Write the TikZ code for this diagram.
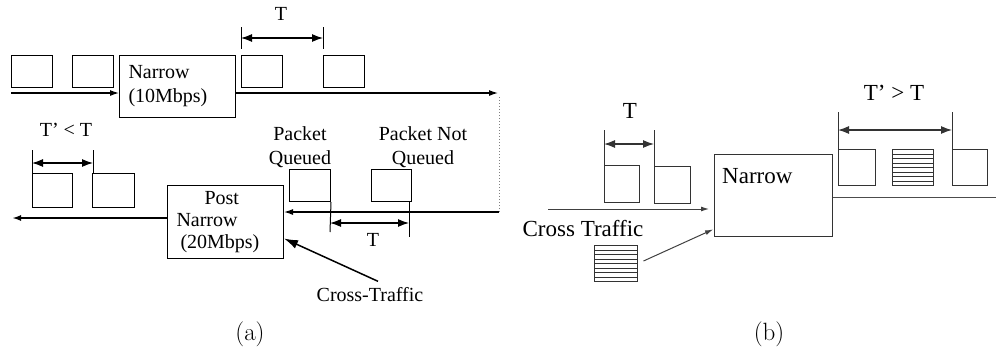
\documentclass[tikz,border=0pt]{standalone}
\usepackage{fontspec}
\newfontfamily\figfont{Liberation Serif}
\usepackage{tikz}
\usetikzlibrary{arrows.meta, calc, positioning}

\tikzset{
  pkt/.style 2 args={draw, line width=1pt, inner sep=0pt, anchor=north west,
    minimum width=#1, minimum height=#2},
  hatched/.style={path picture={
      \foreach \k in {1,...,7}
        \draw[line width=0.9pt]
          ($(path picture bounding box.north west)!\k/8!(path picture bounding box.south west)$) --
          ($(path picture bounding box.north east)!\k/8!(path picture bounding box.south east)$);}},
  flow/.style={line width=1.2pt, -{Latex[length=9pt,width=6pt]}},
  dim/.style={line width=1.2pt, {Latex[length=11pt,width=8pt]}-{Latex[length=11pt,width=8pt]}},
  tick/.style={line width=1pt},
}

\begin{document}
\begin{tikzpicture}[x=1pt, y=-1pt, font=\figfont\fontsize{20}{24}\selectfont]
  \useasboundingbox (0,0) rectangle (996,351);
  % ---------------- (a) ----------------
  % Upper path: packets into the narrow link
  \node[pkt={41pt}{32pt}] (pA1) at (11,55) {};
  \node[pkt={41pt}{32pt}] (pA2) at (72,55) {};
  \node[pkt={116pt}{62pt}, text width=98pt, inner xsep=9pt, align=left] (narrowA) at (119,55) {Narrow\\(10Mbps)};
  \node[pkt={41pt}{32pt}] (pA3) at (241,55) {};
  \node[pkt={41pt}{32pt}] (pA4) at (323,55) {};
  \coordinate (inA) at (11,93);
  \coordinate (outA) at (498,93);
  \draw[flow] (inA) -- (inA -| narrowA.west);
  \draw[flow] (narrowA.east |- inA) -- (outA);
  % Spacing T after the narrow link
  \coordinate (tA1) at (241,27);
  \coordinate (tA2) at (323,27);
  \draw[tick] (tA1) -- ++(0,22);
  \draw[tick] (tA2) -- ++(0,22);
  \draw[dim] ($(tA1)+(0,11)$) -- ($(tA2)+(0,11)$);
  \node (lblTA) at (281,14) {T};
  % Turn back (dotted)
  \coordinate (turnA) at (499,97);
  \coordinate (retA) at (499,212);
  \draw[gray, dotted, line width=1pt] (turnA) -- (retA);
  % Lower path: post narrow link
  \node[pkt={116pt}{73pt}, text width=98pt, inner xsep=9pt, align=left, font=\figfont\fontsize{20}{22}\selectfont] (postA) at (167,185) {\hspace*{28pt}Post\\Narrow\\\hspace*{4pt}(20Mbps)};
  \draw[flow] (retA) -- (retA -| postA.east);
  \coordinate (exitA) at (12,218);
  \draw[flow, line width=2pt] (postA.west |- exitA) -- (exitA);
  \node[pkt={40pt}{34pt}] (pA5) at (32,173) {};
  \node[pkt={42pt}{34pt}] (pA6) at (92,173) {};
  \node[pkt={41pt}{32pt}] (qA) at (289,169) {};
  \node[pkt={40pt}{32pt}] (nqA) at (371,169) {};
  % Spacing T' < T
  \coordinate (tB1) at (32,150);
  \coordinate (tB2) at (93,150);
  \draw[tick] (tB1) -- ++(0,23);
  \draw[tick] (tB2) -- ++(0,23);
  \draw[dim] ($(tB1)+(0,13)$) -- ($(tB2)+(0,13)$);
  \node (lblTB) at (66,130) {T’ < T};
  \node[align=center] (lblQ) at (300,147) {Packet\\Queued};
  \node[align=center] (lblNQ) at (423,147) {Packet Not\\Queued};
  % Spacing T at the queue
  \coordinate (tQ1) at (330,232);
  \coordinate (tQ2) at (409,237);
  \draw[tick] (qA.south east) -- (tQ1);
  \draw[tick] (409,201) -- (tQ2);
  \draw[dim] (330,223) -- (409,223);
  \node (lblTQ) at (373,240) {T};
  % Cross traffic
  \node (ctA) at (370,295) {Cross-Traffic};
  \draw[line width=1.5pt, -{Latex[length=14pt,width=9pt]}] ([xshift=8pt,yshift=3pt]ctA.north) -- ([yshift=-16.5pt]postA.east);
  % ---------------- (b) ----------------
  \begin{scope}[font=\figfont\fontsize{23}{27}\selectfont, draw=black!80]
    \node[pkt={35pt}{37pt}] (pB1) at (604,165) {};
    \node[pkt={36pt}{37pt}] (pB2) at (654,166) {};
    \coordinate (tC1) at (604,130);
    \coordinate (tC2) at (654,130);
    \draw[tick] (tC1) -- (pB1.north west);
    \draw[tick] (tC2) -- (pB2.north west);
    \draw[dim] ($(tC1)+(0,14)$) -- ($(tC2)+(0,14)$);
    \node (lblTC) at (630,111) {T};
    \node[pkt={118pt}{82pt}, label={[anchor=north west, inner sep=0pt, xshift=8pt, yshift=-14pt]north west:Narrow}] (narrowB) at (714,154) {};
    \coordinate (inB) at (548,209);
    \draw[line width=1pt, black!75, -{Latex[length=8pt,width=5pt]}, shorten >=5pt] (inB) -- (inB -| narrowB.west);
    \node (ctB) at (583,229) {Cross Traffic};
    \node[pkt={43pt}{36pt}, hatched] (hB1) at (594,245) {};
    \draw[line width=1pt, black!75, -{Latex[length=8pt,width=5pt]}, shorten <=6pt, shorten >=1pt] (hB1.east) -- ([yshift=8pt]narrowB.south west);
    % Packets after the narrow link
    \node[pkt={37pt}{36pt}] (pB3) at (838,149) {};
    \node[pkt={41pt}{36pt}, hatched] (hB2) at (892,149) {};
    \node[pkt={35pt}{36pt}] (pB4) at (952,149) {};
    \coordinate (outB) at (996,197);
    \draw[line width=1pt, black!70] (narrowB.east |- outB) -- (outB);
    \coordinate (tD1) at (838,112);
    \coordinate (tD2) at (952,112);
    \draw[tick] (tD1) -- (pB3.north west);
    \draw[tick] (tD2) -- (pB4.north west);
    \draw[dim] ($(tD1)+(0,18)$) -- ($(tD2)+(0,18)$);
    \node (lblTD) at (894,93) {T’ > T};
  \end{scope}
  % Sub-figure captions
  \node[font=\rmfamily\fontsize{25}{30}\selectfont] (capA) at (250,334) {(a)};
  \node[font=\rmfamily\fontsize{25}{30}\selectfont] (capB) at (769,334) {(b)};
\end{tikzpicture}
\end{document}
